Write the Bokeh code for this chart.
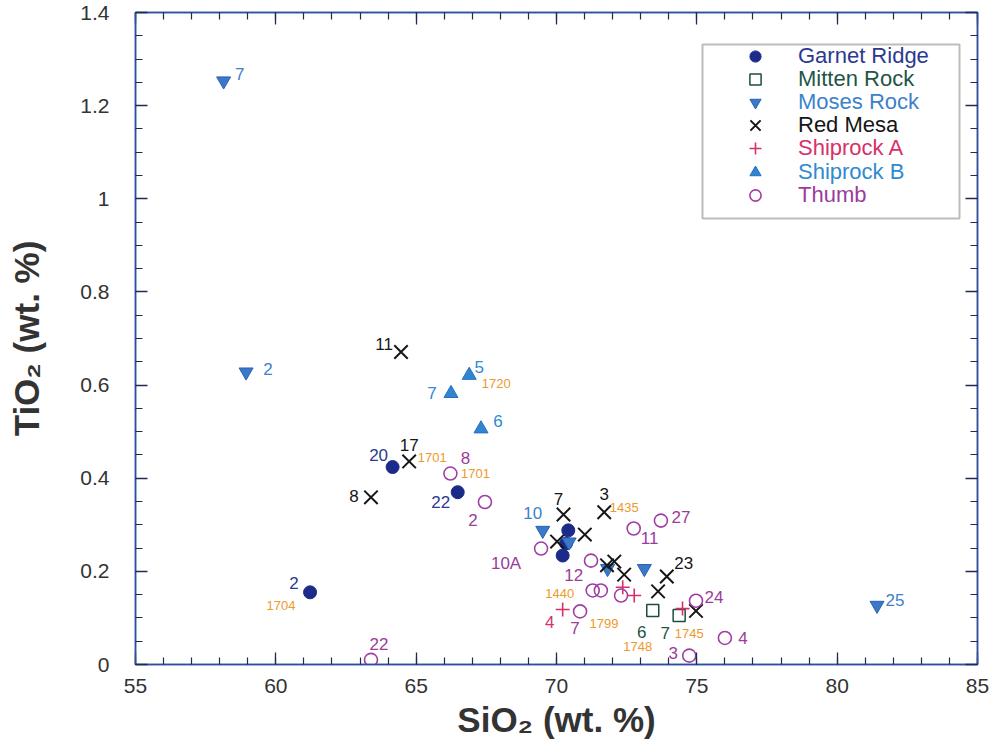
from bokeh.plotting import figure
from bokeh.models import (ColumnDataSource, Legend, LegendItem, LinearAxis,
                          SingleIntervalTicker, CustomJSTickFormatter, BoxAnnotation, Range1d)
from bokeh.core.properties import value
from bokeh.embed import file_html
from bokeh.resources import INLINE

# ---------------- data (SiO2 wt.%, TiO2 wt.%) ----------------
garnet_sio2 = [61.22, 64.16, 66.48, 70.42, 70.34, 70.22]
garnet_tio2 = [0.155, 0.424, 0.370, 0.288, 0.260, 0.234]
garnet_ids = ["2", "20", "22", "", "", ""]
garnet_samples = ["1704", "", "", "", "", ""]

mitten_sio2 = [73.43, 74.37]
mitten_tio2 = [0.116, 0.105]
mitten_ids = ["6", "7"]
mitten_samples = ["1748", "1745"]

moses_sio2 = [58.14, 58.94, 81.42, 69.51, 70.45, 71.82, 73.13]
moses_tio2 = [1.253, 0.628, 0.127, 0.288, 0.263, 0.206, 0.206]
moses_ids = ["7", "2", "25", "10", "", "", ""]
moses_samples = ["", "", "", "", "", "", ""]

redmesa_sio2 = [64.46, 64.75, 63.39, 70.25, 71.70, 71.01, 70.02, 71.80, 72.06, 72.41, 73.93, 73.62, 74.97]
redmesa_tio2 = [0.671, 0.436, 0.359, 0.322, 0.327, 0.279, 0.264, 0.213, 0.221, 0.193, 0.189, 0.157, 0.115]
redmesa_ids = ["11", "17", "8", "7", "3", "", "", "", "", "", "23", "", ""]
redmesa_samples = ["", "1701", "", "", "1435", "", "", "", "", "", "", "", ""]

shipa_sio2 = [70.22, 72.36, 72.77, 74.49]
shipa_tio2 = [0.118, 0.166, 0.148, 0.120]
shipa_ids = ["4", "", "", ""]
shipa_samples = ["1440", "", "", ""]

shipb_sio2 = [66.89, 66.24, 67.31]
shipb_tio2 = [0.621, 0.582, 0.506]
shipb_ids = ["5", "7", "6"]
shipb_samples = ["1720", "", ""]

thumb_sio2 = [63.39, 66.22, 67.45, 69.45, 72.75, 73.72, 71.23, 71.29, 71.58, 70.84, 72.30, 74.97, 76.00, 74.73]
thumb_tio2 = [0.010, 0.410, 0.349, 0.249, 0.292, 0.309, 0.223, 0.159, 0.159, 0.114, 0.148, 0.137, 0.057, 0.019]
thumb_ids = ["22", "8", "2", "10A", "11", "27", "", "12", "", "7", "", "24", "4", "3"]
thumb_samples = ["", "1701", "", "", "", "", "", "", "", "1799", "", "", "", ""]

# ---------------- label placement (pixel offsets, layout only) ----------------
garnet_id_off = [(-16, -9), (-14, -12), (-17, 10), (0, 0), (0, 0), (0, 0)]
garnet_s_off = [(-29, 13), (0, 0), (0, 0), (0, 0), (0, 0), (0, 0)]
mitten_id_off = [(-11, 22), (-14, 17)]
mitten_s_off = [(-15, 36), (10, 18)]
moses_id_off = [(16, -7), (22, -3), (18, -5), (-10, -17), (0, 0), (0, 0), (0, 0)]
moses_s_off = [(0, 0)] * 7
redmesa_id_off = [(-17, -8), (0, -16), (-17, -1), (-5, -16), (0, -18), (0, 0), (0, 0),
                  (0, 0), (0, 0), (0, 0), (17, -13), (0, 0), (0, 0)]
redmesa_s_off = [(0, 0), (23, -4), (0, 0), (0, 0), (20, -5), (0, 0), (0, 0),
                 (0, 0), (0, 0), (0, 0), (0, 0), (0, 0), (0, 0)]
shipa_id_off = [(-13, 12), (0, 0), (0, 0), (0, 0)]
shipa_s_off = [(-3, -16), (0, 0), (0, 0), (0, 0)]
shipb_id_off = [(10, -8), (-19, 0), (17, -8)]
shipb_s_off = [(27, 8), (0, 0), (0, 0)]
thumb_id_off = [(8, -16), (15, -16), (-12, 18), (-35, 15), (16, 9), (20, -4), (0, 0),
                (-19, -15), (0, 0), (-5, 17), (0, 0), (18, -4), (18, 0), (-16, -3)]
thumb_s_off = [(0, 0), (25, 0), (0, 0), (0, 0), (0, 0), (0, 0), (0, 0),
               (0, 0), (0, 0), (24, 12), (0, 0), (0, 0), (0, 0), (0, 0)]

FONT = "Liberation Sans"
ORANGE = "#ec9a2c"

series = [
    # name, x, y, ids, samples, id_off, s_off, marker, size, line colour, fill colour, lw, text colour, legend glyph box
    ("Garnet Ridge", garnet_sio2, garnet_tio2, garnet_ids, garnet_samples, garnet_id_off, garnet_s_off,
     "circle", 13, "#1c2b8a", "#1c2b8a", 1, "#2b3a8f", 28),
    ("Mitten Rock", mitten_sio2, mitten_tio2, mitten_ids, mitten_samples, mitten_id_off, mitten_s_off,
     "square", 12, "#1f4d3c", None, 1.5, "#1f5548", 28),
    ("Moses Rock", moses_sio2, moses_tio2, moses_ids, moses_samples, moses_id_off, moses_s_off,
     "inverted_triangle", 14, "#2a62b4", "#3b78c8", 1, "#3d82c8", 28),
    ("Red Mesa", redmesa_sio2, redmesa_tio2, redmesa_ids, redmesa_samples, redmesa_id_off, redmesa_s_off,
     "x", 19, "#161616", None, 2, "#161616", 36),
    ("Shiprock A", shipa_sio2, shipa_tio2, shipa_ids, shipa_samples, shipa_id_off, shipa_s_off,
     "cross", 14, "#d6306a", None, 1.6, "#d8306a", 30),
    ("Shiprock B", shipb_sio2, shipb_tio2, shipb_ids, shipb_samples, shipb_id_off, shipb_s_off,
     "triangle", 14, "#2470c0", "#3384d0", 1, "#2f8ad0", 28),
    ("Thumb", thumb_sio2, thumb_tio2, thumb_ids, thumb_samples, thumb_id_off, thumb_s_off,
     "circle", 13, "#a03ea4", None, 1.6, "#9b3c9b", 28),
]

p = figure(width=1000, height=751, output_backend="svg", toolbar_location=None,
           x_range=Range1d(55, 85), y_range=Range1d(0, 1.4000001),
           min_border_left=135, min_border_right=23, min_border_top=12, min_border_bottom=87,
           background_fill_color="white", border_fill_color="white")
p.grid.visible = False
p.outline_line_color = "#2f4f9f"
p.outline_line_width = 1.5

AXIS_BLUE = "#2f4f9f"
fmt = CustomJSTickFormatter(code="return String(Number(tick.toFixed(2)));")


def style_axis(ax, show_labels):
    ax.axis_line_color = AXIS_BLUE
    ax.axis_line_width = 1.5
    ax.major_tick_line_color = "#1e2a55"
    ax.minor_tick_line_color = "#1e2a55"
    ax.major_tick_line_width = 1.3
    ax.minor_tick_line_width = 1.2
    ax.major_tick_in = 12
    ax.major_tick_out = 0
    ax.minor_tick_in = 7
    ax.minor_tick_out = 0
    ax.formatter = fmt
    if show_labels:
        ax.major_label_text_font = FONT
        ax.major_label_text_font_size = "21px"
        ax.major_label_text_color = "#333333"
    else:
        ax.major_label_text_font_size = "0px"
        ax.major_label_text_color = None
        ax.major_label_standoff = 0


def x_ticker():
    return SingleIntervalTicker(interval=5, num_minor_ticks=5)


def y_ticker():
    return SingleIntervalTicker(interval=0.2, num_minor_ticks=4)


xax = p.xaxis[0]
yax = p.yaxis[0]
xax.ticker = x_ticker()
yax.ticker = y_ticker()
style_axis(xax, True)
style_axis(yax, True)
xax.major_label_standoff = 14
yax.major_label_standoff = 26
yax.major_label_text_baseline = "top"
xax.axis_label = "SiO₂ (wt. %)"
yax.axis_label = "TiO₂ (wt. %)"
for ax, st in ((xax, 4), (yax, 31)):
    ax.axis_label_text_font = FONT
    ax.axis_label_text_font_size = "35px"
    ax.axis_label_text_font_style = "bold"
    ax.axis_label_text_color = "#333333"
    ax.axis_label_standoff = st

top_ax = LinearAxis(ticker=x_ticker())
right_ax = LinearAxis(ticker=y_ticker())
style_axis(top_ax, False)
style_axis(right_ax, False)
p.add_layout(top_ax, "above")
p.add_layout(right_ax, "right")

renderers = []
for (name, xs, ys, ids, samples, id_off, s_off, marker, size, lc, fc, lw, tc, gbox) in series:
    src = ColumnDataSource(dict(x=xs, y=ys))
    r = p.scatter("x", "y", source=src, marker=marker, size=size, line_color=lc,
                  fill_color=fc if fc else None, line_width=lw)
    renderers.append((name, r, tc, gbox))
    keep = [i for i, t in enumerate(ids) if t]
    lab = ColumnDataSource(dict(x=[xs[i] for i in keep], y=[ys[i] for i in keep],
                                t=[ids[i] for i in keep],
                                dx=[id_off[i][0] for i in keep], dy=[id_off[i][1] for i in keep]))
    p.text("x", "y", text="t", source=lab, x_offset="dx", y_offset="dy",
           text_font=value(FONT), text_font_size=value("17px"), text_color=tc,
           text_align="center", text_baseline="middle")
    keep = [i for i, t in enumerate(samples) if t]
    if keep:
        slab = ColumnDataSource(dict(x=[xs[i] for i in keep], y=[ys[i] for i in keep],
                                     t=[samples[i] for i in keep],
                                     dx=[s_off[i][0] for i in keep], dy=[s_off[i][1] for i in keep]))
        p.text("x", "y", text="t", source=slab, x_offset="dx", y_offset="dy",
               text_font=value(FONT), text_font_size=value("13px"), text_color=ORANGE,
               text_align="center", text_baseline="middle")

# legend frame (screen units relative to the plot frame)
box = BoxAnnotation(left=567, right=824, top=620, bottom=446,
                    left_units="screen", right_units="screen", top_units="screen", bottom_units="screen",
                    fill_color="white", fill_alpha=1.0, line_color="#222222", line_width=2,
                    level="overlay")
p.add_layout(box)

# one legend per entry so each name keeps its own colour
for i, (name, r, tc, g) in enumerate(renderers):
    cy = 55.5 + 23.2 * i
    h = max(g, 22)
    leg = Legend(items=[LegendItem(label=name, renderers=[r])],
                 location=(620 - g / 2, 664 - cy - h / 2),
                 label_text_font=FONT, label_text_font_size="22px", label_text_color=tc,
                 label_text_line_height=1.0,
                 glyph_width=g, glyph_height=g, label_height=22, label_standoff=int(43 - g / 2),
                 padding=0, margin=0, spacing=0,
                 border_line_color=None, background_fill_alpha=0)
    p.add_layout(leg, "center")

open("out.html", "w").write(file_html(p, INLINE))
